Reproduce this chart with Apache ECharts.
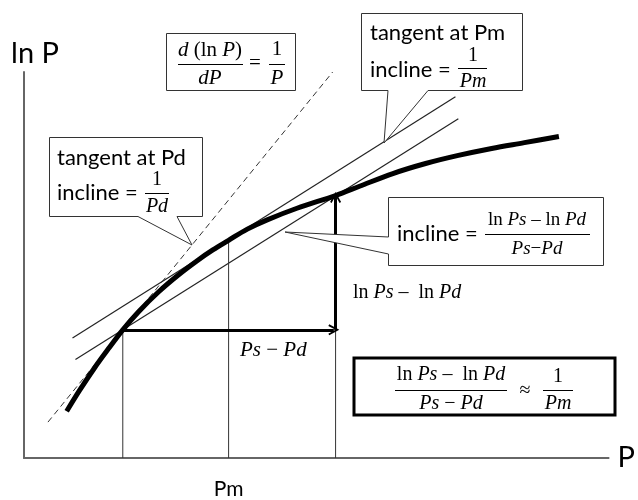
<!DOCTYPE html>
<html><head><meta charset="utf-8">
<script src="https://cdn.jsdelivr.net/npm/echarts@6/dist/echarts.min.js"></script>
<style>html,body{margin:0;padding:0;background:#fff}#c{width:638px;height:500px}</style>
</head><body><div id="c"></div>
<script>
// ---- data (diagram units) ----
const curveP   = [0.73, 0.95, 1.20, 1.46, 1.69, 1.96, 2.30, 2.64, 2.98, 3.23, 3.50, 3.82, 4.16, 4.67, 5.33, 5.74, 6.31, 6.87, 7.43, 8.00, 8.56, 9.15];
const curveLnP = [1.21, 1.75, 2.32, 2.86, 3.32, 3.79, 4.30, 4.74, 5.13, 5.39, 5.64, 5.93, 6.17, 6.47, 6.80, 7.04, 7.37, 7.63, 7.84, 8.02, 8.17, 8.33];
const Pd = 1.69, Pm = 3.50, Ps = 5.33;
const lnPd = 3.32, lnPm = 5.64, lnPs = 6.80;
const dashedP = [0.41, 5.28],  dashedLnP = [0.93, 10.0];   // dashed tangent line
const tanPmP  = [0.83, 7.38],  tanPmLnP  = [3.11, 9.36];   // tangent at Pm
const chordP  = [0.88, 7.43],  chordLnP  = [2.55, 8.79];   // chord Pd-Ps
const xTickValues = [Pm];
const xTickLabels = ['Pm'];

const SANS = 'Lato, "Noto Sans", sans-serif';
const MATH = '"Liberation Serif", "DejaVu Serif", serif';

const chart = echarts.init(document.getElementById('c'), null, {renderer: 'canvas'});

function zip(a, b) { return a.map((v, i) => [v, b[i]]); }
function mathRich(size) {
  return {
    u: {fontFamily: MATH, fontSize: size, fill: '#000'},
    i: {fontFamily: MATH, fontSize: size, fontStyle: 'italic', fill: '#000'}
  };
}
function mtext(x, y, text, size, align) {
  return {type: 'text', x: x, y: y, z: 20, style: {text: text, rich: mathRich(size), align: align || 'center', verticalAlign: 'middle', fontFamily: MATH, fontSize: size}};
}
function stext(x, y, text, size) {
  return {type: 'text', x: x, y: y, z: 20, style: {text: text, fontFamily: SANS, fontSize: size, fill: '#000', align: 'left', verticalAlign: 'middle'}};
}
function bar(x1, x2, y) {
  return {type: 'line', z: 20, shape: {x1: x1, y1: y, x2: x2, y2: y}, style: {stroke: '#000', lineWidth: 1}};
}
function poly(points, lw, stroke) {
  return {type: 'polygon', z: 10, shape: {points: points}, style: {fill: '#fff', stroke: stroke || '#333', lineWidth: lw || 1}};
}

const arrowPath = 'path://M0,9 L5,0 L10,9 L8.6,9.8 L5,3.4 L1.4,9.8 Z';

const thin = {color: '#222', width: 1.2};

const option = {
  animation: false,
  backgroundColor: '#fff',
  grid: {left: 24, right: 23, top: 72, bottom: 40},
  xAxis: {
    type: 'value', min: 0, max: 10,
    splitLine: {show: false},
    axisTick: {show: false},
    axisLine: {show: true, lineStyle: {color: '#666', width: 2}},
    axisLabel: {customValues: xTickValues, formatter: (v) => xTickLabels[xTickValues.indexOf(v)] || '', margin: 21, fontSize: 21, fontFamily: SANS, color: '#000'},
    name: 'P', nameLocation: 'end', nameGap: 9,
    nameTextStyle: {fontSize: 29, fontFamily: SANS, color: '#000', verticalAlign: 'middle'}
  },
  yAxis: {
    type: 'value', min: 0, max: 10,
    splitLine: {show: false},
    axisTick: {show: false},
    axisLabel: {show: false},
    axisLine: {show: true, lineStyle: {color: '#666', width: 2}},
    name: 'ln P', nameLocation: 'end', nameGap: 4,
    nameTextStyle: {fontSize: 29, fontFamily: SANS, color: '#000', padding: [0, 0, 0, 22]}
  },
  series: [
    {type: 'line', data: zip(dashedP, dashedLnP), symbol: 'none', lineStyle: {color: '#333', width: 1, type: [6, 4]}},
    {type: 'line', data: zip(tanPmP, tanPmLnP), symbol: 'none', lineStyle: thin},
    {type: 'line', data: zip(chordP, chordLnP), symbol: 'none', lineStyle: thin},
    {type: 'line', data: [[Pd, 0], [Pd, lnPd]], symbol: 'none', lineStyle: {color: '#333', width: 1}},
    {type: 'line', data: [[Pm, 0], [Pm, lnPm]], symbol: 'none', lineStyle: {color: '#333', width: 1}},
    {type: 'line', data: [[Ps, 0], [Ps, lnPd]], symbol: 'none', lineStyle: {color: '#333', width: 1}},
    {type: 'line', data: zip(curveP, curveLnP), symbol: 'none', smooth: 0.35, lineStyle: {color: '#000', width: 5}, z: 5},
    {
      type: 'lines', coordinateSystem: 'cartesian2d', z: 6,
      symbol: ['none', arrowPath], symbolSize: [14, 11],
      lineStyle: {color: '#000', width: 3, opacity: 1, curveness: 0},
      data: [
        {coords: [[Pd, lnPd], [Ps - 0.03, lnPd]]},
        {coords: [[Ps, lnPd], [Ps, lnPs - 0.05]]}
      ]
    }
  ],
  graphic: [
    // formula box
    poly([[166.5, 33.5], [295.5, 33.5], [295.5, 90.5], [166.5, 90.5]]),
    mtext(210, 50, '{i|d} {u|(ln }{i|P}{u|)}', 21),
    bar(178, 243, 64.5),
    mtext(210, 78, '{i|dP}', 21),
    mtext(255, 63, '{u|=}', 21),
    mtext(277, 49, '{u|1}', 21),
    bar(269, 285, 64.5),
    mtext(277, 78, '{i|P}', 21),
    // tangent at Pm callout
    poly([[361.5, 13.5], [522.5, 13.5], [522.5, 90.5], [428, 90.5], [384, 143], [388, 90.5], [361.5, 90.5]]),
    stext(370, 33, 'tangent at Pm', 22),
    stext(370, 70, 'incline =', 22),
    mtext(473, 56, '{u|1}', 20),
    bar(458, 487, 68.5),
    mtext(473, 82, '{i|Pm}', 20),
    // tangent at Pd callout
    poly([[49.5, 137.5], [202.5, 137.5], [202.5, 216.5], [177, 216.5], [192, 245], [138, 216.5], [49.5, 216.5]]),
    stext(57, 158, 'tangent at Pd', 22),
    stext(57, 193, 'incline =', 22),
    mtext(157, 180, '{u|1}', 20),
    bar(145, 169, 193.5),
    mtext(157, 207, '{i|Pd}', 20),
    // incline (chord) callout
    poly([[388.5, 197.5], [603.5, 197.5], [603.5, 265.5], [388.5, 265.5], [388.5, 254], [285, 232], [388.5, 237]]),
    stext(397, 234, 'incline =', 22),
    mtext(537, 220, '{u|ln }{i|Ps}{u| – ln }{i|Pd}', 19),
    bar(485, 590, 234.5),
    mtext(537, 249, '{i|Ps}{u|−}{i|Pd}', 19),
    // arrow labels
    mtext(353, 293, '{u|ln }{i|Ps}{u| –  ln }{i|Pd}', 20, 'left'),
    mtext(240, 350, '{i|Ps}{u| − }{i|Pd}', 21, 'left'),
    // bottom result box
    poly([[354, 358], [615, 358], [615, 415], [354, 415]], 3, '#000'),
    mtext(451, 375, '{u|ln }{i|Ps}{u| –  ln }{i|Pd}', 20),
    bar(395, 507, 390.5),
    mtext(451, 404, '{i|Ps}{u| − }{i|Pd}', 20),
    mtext(525, 391, '{u|≈}', 20),
    mtext(558, 377, '{u|1}', 20),
    bar(543, 573, 390.5),
    mtext(558, 404, '{i|Pm}', 20)
  ]
};
chart.setOption(option);
</script>
</body></html>
